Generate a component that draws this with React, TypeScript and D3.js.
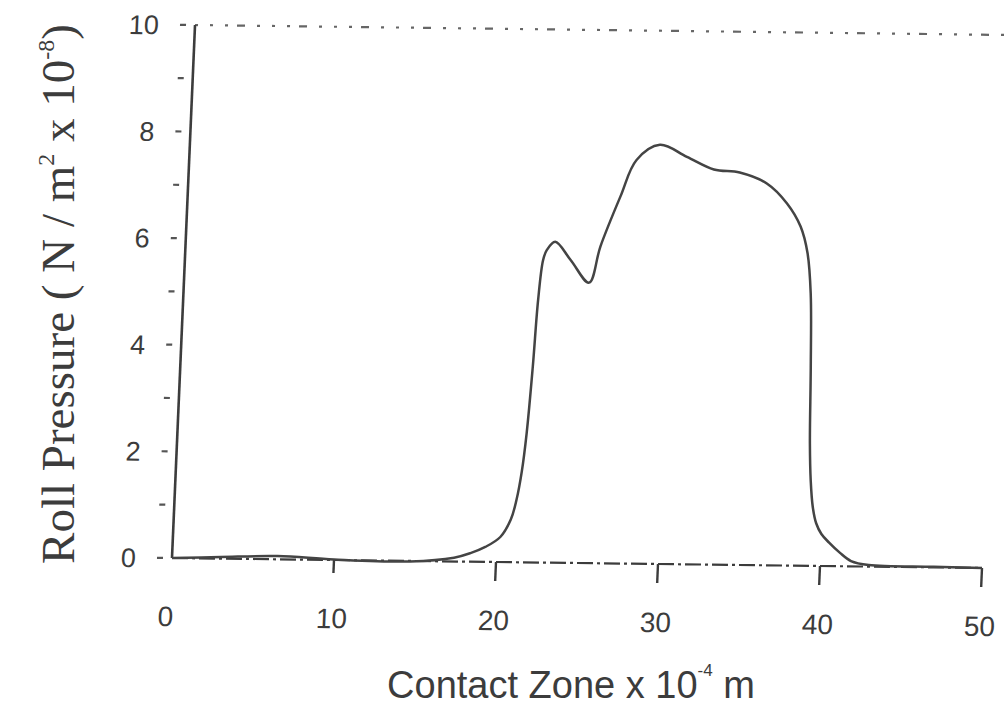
import React, { useEffect, useRef } from "react";
import * as d3 from "d3";

// contact zone position (x 10^-4 m) and roll pressure (N/m^2 x 10^-8)
const contactZone = [0, 3, 6.5, 10, 14.7, 17.4, 18.4, 19.3, 20.2, 20.8, 21.1, 21.35, 21.55, 21.75, 21.9, 22.1, 22.3, 22.8, 23.8, 25.0, 25.6, 26.7, 27.6, 29.0, 30.7, 32.4, 34.0, 35.7, 37.0, 37.9, 38.4, 38.7, 38.9, 39.05, 39.2, 39.4, 39.65, 40.0, 40.5, 41.2, 41.9, 43, 47, 50];
const rollPressure = [0, 0.03, 0.06, 0.01, -0.01, 0.07, 0.16, 0.28, 0.47, 0.8, 1.17, 1.7, 2.43, 3.67, 4.92, 5.67, 5.86, 6.02, 5.68, 5.26, 5.94, 6.88, 7.57, 7.86, 7.64, 7.41, 7.36, 7.16, 6.79, 6.36, 5.86, 5.11, 3.73, 2.3, 1.6, 1.1, 0.8, 0.6, 0.44, 0.25, 0.1, 0.03, 0.01, 0];

const xTicks = [0, 10, 20, 30, 40, 50];
const yTicks = [0, 1, 2, 3, 4, 5, 6, 7, 8, 9, 10];
const yTickLabels = [0, 2, 4, 6, 8, 10];

const ink = "#3c3c3c";

export default function App() {
  const ref = useRef<SVGSVGElement>(null);

  useEffect(() => {
    const svg = d3.select(ref.current);
    svg.selectAll("*").remove();

    const x = d3.scaleLinear().domain([0, 50]).range([172, 982]);
    const y = d3.scaleLinear().domain([0, 10]).range([558, 25]);

    // the scanned page is slightly sheared
    const g = svg.append("g").attr("transform", "matrix(1, 0.0123, -0.0432, 1, 24.1, -2.1)");

    // top frame, faded dots
    g.append("line")
      .attr("x1", x(0)).attr("x2", x(50))
      .attr("y1", y(10)).attr("y2", y(10))
      .attr("stroke", "#666").attr("stroke-width", 2.2)
      .attr("stroke-dasharray", "3 12 3 12 3 9 8 12");

    // x axis line
    g.append("line")
      .attr("x1", x(0)).attr("x2", x(50))
      .attr("y1", y(0)).attr("y2", y(0))
      .attr("stroke", ink).attr("stroke-width", 2.2)
      .attr("stroke-dasharray", "16 4 3 4");

    // y axis line
    g.append("line")
      .attr("x1", x(0)).attr("x2", x(0))
      .attr("y1", y(0)).attr("y2", y(10))
      .attr("stroke", ink).attr("stroke-width", 2.6);

    g.selectAll(".ytick")
      .data(yTicks)
      .enter().append("line")
      .attr("x1", x(0) - 15).attr("x2", x(0) - 9)
      .attr("y1", (d) => y(d)).attr("y2", (d) => y(d))
      .attr("stroke", "#555").attr("stroke-width", 2.2);

    g.selectAll(".ylab")
      .data(yTickLabels)
      .enter().append("text")
      .attr("x", x(0) - 36)
      .attr("y", (d) => y(d))
      .attr("dy", "0.36em")
      .attr("text-anchor", "end")
      .attr("font-family", "Liberation Sans, Arial, sans-serif")
      .attr("font-size", 27)
      .attr("fill", ink)
      .text((d) => d);

    g.selectAll(".xtick")
      .data(xTicks.filter((d) => d > 0))
      .enter().append("line")
      .attr("x1", (d) => x(d)).attr("x2", (d) => x(d))
      .attr("y1", y(0)).attr("y2", (d) => y(0) + (d === 10 ? 13 : 19))
      .attr("stroke", ink).attr("stroke-width", 2.4);

    g.selectAll(".xlab")
      .data(xTicks)
      .enter().append("text")
      .attr("x", (d) => x(d) + (d === 0 ? -4 : 0))
      .attr("y", y(0) + 58)
      .attr("dy", "0.36em")
      .attr("text-anchor", "middle")
      .attr("font-family", "Liberation Sans, Arial, sans-serif")
      .attr("font-size", 28)
      .attr("fill", ink)
      .text((d) => d);

    const line = d3.line<number>()
      .x((d, i) => x(contactZone[i]))
      .y((d) => y(d))
      .curve(d3.curveCatmullRom.alpha(0.5));

    g.append("path")
      .datum(rollPressure)
      .attr("fill", "none")
      .attr("stroke", "#444")
      .attr("stroke-width", 2.5)
      .attr("d", line);

    // axis titles
    const xt = svg.append("text")
      .attr("x", 571).attr("y", 698)
      .attr("text-anchor", "middle")
      .attr("font-family", "Liberation Sans, Arial, sans-serif")
      .attr("font-size", 38)
      .attr("fill", ink);
    xt.append("tspan").text("Contact Zone x 10");
    xt.append("tspan").attr("dy", -22).attr("font-size", 17).text("-4");
    xt.append("tspan").attr("dy", 22).text(" m");

    const yt = svg.append("text")
      .attr("transform", "translate(74, 294) rotate(-90)")
      .attr("text-anchor", "middle")
      .attr("font-family", "Liberation Serif, Times New Roman, serif")
      .attr("font-size", 47)
      .attr("fill", ink);
    yt.append("tspan").text("Roll Pressure ( N / m");
    yt.append("tspan").attr("dy", -20).attr("font-size", 24).text("2");
    yt.append("tspan").attr("dy", 20).text(" x 10");
    yt.append("tspan").attr("dy", -20).attr("font-size", 24).text("-8");
    yt.append("tspan").attr("dy", 20).text(")");
  }, []);

  return (
    <svg
      ref={ref}
      width={1004}
      height={706}
      style={{ position: "absolute", left: 0, top: 0, background: "#fff" }}
    />
  );
}
